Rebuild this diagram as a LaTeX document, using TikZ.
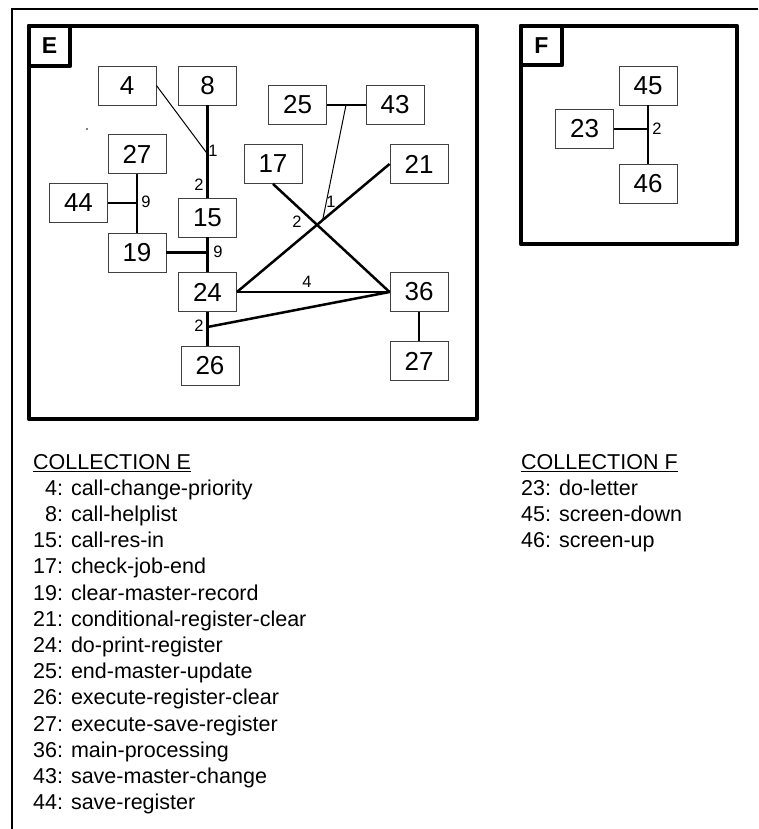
\documentclass[tikz,border=0pt]{standalone}
\usepackage{fontspec}
\setmainfont{Liberation Sans}
\usetikzlibrary{calc}

\tikzset{
  frameline/.style={line width=4.5pt, line join=round},
  module/.style={draw=black!75, line width=0.9pt, rectangle, minimum width=58pt,
    minimum height=39pt, inner sep=0pt, font=\fontsize{26}{28}\selectfont},
  tabletter/.style={inner sep=0pt, font=\bfseries\fontsize{23}{26}\selectfont},
  heavy/.style={line width=2.5pt},
  medium/.style={line width=1.7pt},
  light/.style={line width=1pt},
  weight/.style={inner sep=0pt, font=\fontsize{16.5}{18}\selectfont},
  legend/.style={anchor=base west, inner sep=0pt, font=\fontsize{21.5}{26}\selectfont},
}

\begin{document}
\begin{tikzpicture}[x=1pt, y=-1pt]
\useasboundingbox (0,0) rectangle (758,829);

% page border (top and left edges)
\draw[line width=2pt] (758,9) -- (12,9) -- (12,829);

% collection frames with their tabs
\draw[frameline] (29,26) rectangle (477,419);
\draw[frameline] (29,26) rectangle (70,66);
\node[tabletter] (tabE) at (49.5,46) {E};
\draw[frameline] (521,26) rectangle (737,244);
\draw[frameline] (521,26) rectangle (562,65);
\node[tabletter] (tabF) at (541.5,45.5) {F};

\fill (87,129) circle (0.8pt);

% collection E modules
\node[module] (n4)  at (127,85.5)   {4};
\node[module] (n8)  at (207.5,85.5) {8};
\node[module] (n25) at (297.5,105)  {25};
\node[module] (n43) at (395,105)    {43};
\node[module] (n27a) at (137,154)   {27};
\node[module] (n17) at (273,164)    {17};
\node[module] (n21) at (419,164)    {21};
\node[module] (n44) at (78.5,203)   {44};
\node[module] (n15) at (207.5,217.5) {15};
\node[module] (n19) at (137,252.5)  {19};
\node[module] (n24) at (207.5,292)  {24};
\node[module] (n36) at (419,292)    {36};
\node[module] (n26) at (210,366)    {26};
\node[module] (n27b) at (419,361)   {27};

% collection E connections
\coordinate (j1) at (207.5,154);
\draw[heavy] (n8.south) -- (n15.north);
\draw[light] (n4.east) -- (j1);
\node[weight] (w1) at (213,151) {1};
\node[weight] (w2) at (199,185) {2};

\draw[heavy] (n27a.south) -- (n19.north);
\draw[heavy] (n44.east) -- (n27a.south |- n44.east);
\node[weight] (w9a) at (146,202) {9};

\draw[heavy] (n15.south) -- (n24.north);
\draw[heavy] (n19.east) -- (n15.south |- n19.east);
\node[weight] (w9b) at (218,252) {9};

\coordinate (jm) at (346,105);
\draw[medium] (n25.east) -- (n43.west);
\draw[light] (jm) -- ($(n24.east)!0.5616!(n21.west)$);
\node[weight] (w1b) at (331,202) {1};

\draw[heavy] (n17.south) -- (n36.west);
\draw[heavy] (n24.east) -- (n21.west);
\node[weight] (w2b) at (297,222) {2};

\draw[heavy] (n24.east) -- (n36.west);
\node[weight] (w4) at (307,282) {4};

\coordinate (j2) at (207.5,327);
\draw[heavy] (n24.south) -- (n24.south |- n26.north);
\draw[heavy] (n36.west) -- (j2);
\node[weight] (w2c) at (199,326) {2};

\draw[heavy] (n36.south) -- (n27b.north);

% collection F modules
\node[module] (n45) at (648,85.5)  {45};
\node[module] (n23) at (584.5,129) {23};
\node[module] (n46) at (648,183.5) {46};
\draw[heavy] (n45.south) -- (n46.north);
\draw[heavy] (n23.east) -- (n45.south |- n23.east);
\node[weight] (w2f) at (657,129) {2};

% legends
\node[legend] (capE) at (33,469) {COLLECTION E};
\draw[line width=1.2pt] ([yshift=-2.6pt]capE.base west) -- ([yshift=-2.6pt]capE.base east);
\foreach \txt [count=\i] in {
  \hphantom{1}4: call-change-priority,
  \hphantom{1}8: call-helplist,
  15: call-res-in,
  17: check-job-end,
  19: clear-master-record,
  21: conditional-register-clear,
  24: do-print-register,
  25: end-master-update,
  26: execute-register-clear,
  27: execute-save-register,
  36: main-processing,
  43: save-master-change,
  44: save-register}
  \node[legend] (le\i) at (33,{469+26.2*\i}) {\txt};

\node[legend] (capF) at (521,469) {COLLECTION F};
\draw[line width=1.2pt] ([yshift=-2.6pt]capF.base west) -- ([yshift=-2.6pt]capF.base east);
\foreach \txt [count=\i] in {23: do-letter, 45: screen-down, 46: screen-up}
  \node[legend] (lf\i) at (521,{469+26.2*\i}) {\txt};
\end{tikzpicture}
\end{document}
